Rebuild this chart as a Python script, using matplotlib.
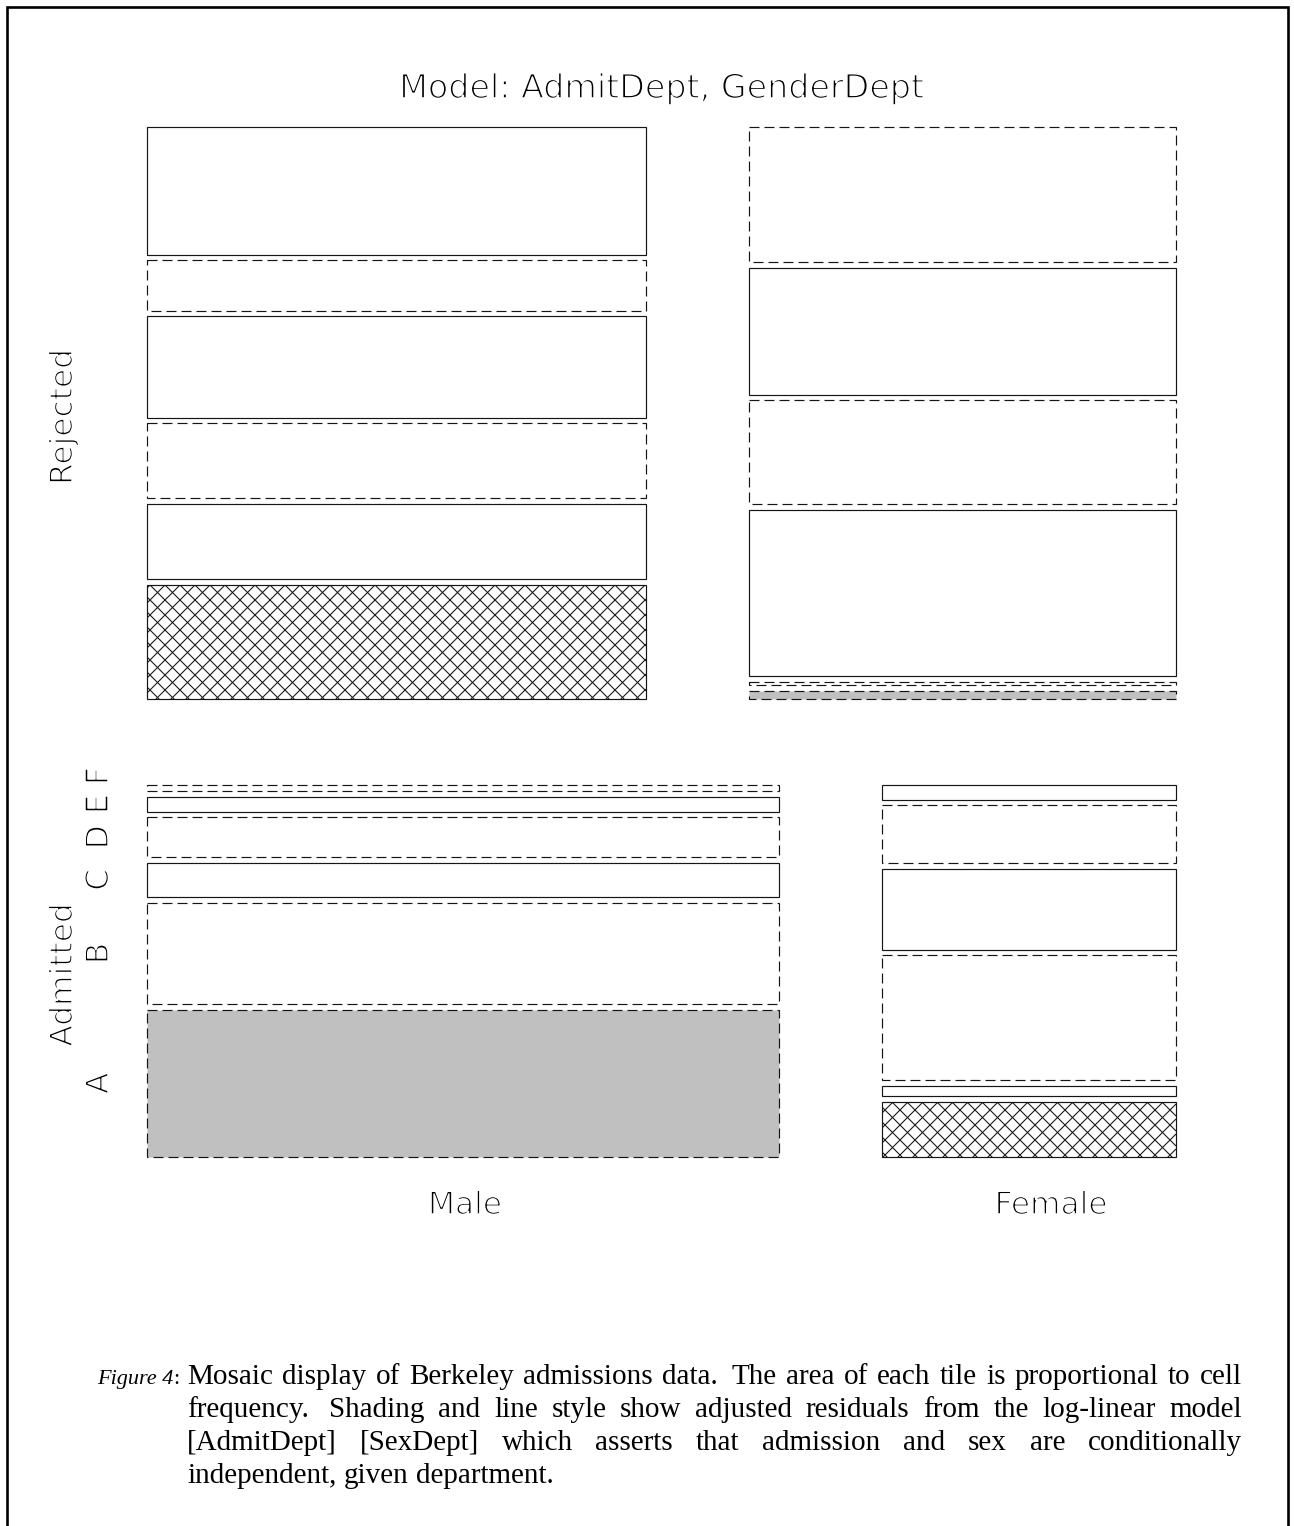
import numpy as np
import matplotlib
matplotlib.use("Agg")
import matplotlib.pyplot as plt
from matplotlib.patches import Rectangle
from matplotlib.collections import LineCollection
import matplotlib.patheffects as pe

plt.rcParams['lines.scale_dashes'] = False

# ---------------- data (Berkeley admissions) ----------------
depts = ['A', 'B', 'C', 'D', 'E', 'F']
admit_levels = ['Admitted', 'Rejected']
genders = ['Male', 'Female']
admitted_male = [512, 353, 120, 138, 53, 22]
admitted_female = [89, 17, 202, 131, 94, 24]
rejected_male = [313, 207, 205, 279, 138, 351]
rejected_female = [19, 8, 391, 244, 299, 317]
title = "Model: AdmitDept, GenderDept"
caption_label = "Figure 4"
caption_lines = [
    "Mosaic display of Berkeley admissions data.  The area of each tile is proportional to cell",
    "frequency.  Shading and line style show adjusted residuals from the log-linear model",
    "[AdmitDept] [SexDept] which asserts that admission and sex are conditionally",
    "independent, given department.",
]

counts = np.array([[admitted_male, admitted_female],
                   [rejected_male, rejected_female]], dtype=float)  # [admit, gender, dept]

# adjusted residuals for model [AdmitDept][GenderDept]
n_ad = counts.sum(axis=1)          # admit x dept
n_gd = counts.sum(axis=0)          # gender x dept
n_d = counts.sum(axis=(0, 1))      # dept
expected = n_ad[:, None, :] * n_gd[None, :, :] / n_d[None, None, :]
var = expected * (1 - n_ad[:, None, :] / n_d) * (1 - n_gd[None, :, :] / n_d)
resid = (counts - expected) / np.sqrt(var)

# ---------------- figure ----------------
W, H = 1294, 1526
fig = plt.figure(figsize=(W / 100, H / 100), dpi=100)
ax = fig.add_axes([0, 0, 1, 1])
ax.set_xlim(0, W)
ax.set_ylim(H, 0)
ax.axis('off')

# page border (open at the bottom)
ax.plot([7, 7, 1288, 1288], [H, 7, 7, H], color='black', lw=1.9,
        solid_joinstyle='miter', solid_capstyle='butt')

LEFT, RIGHT, TOP, BOTTOM = 147, 1176, 127, 1157
ROW_GAP, COL_GAP, DEPT_GAP = 86, 103, 5.5
HATCH_STEP = 15.0
DASH = (0, (7.2, 3.6))
EDGE = '#151515'
LW = 0.85

nd = len(depts)
total = counts.sum()
row_tot = counts.sum(axis=(1, 2))
avail_h = (BOTTOM - TOP) - ROW_GAP - 2 * (nd - 1) * DEPT_GAP
avail_w = (RIGHT - LEFT) - COL_GAP


def crosshatch(x0, y0, w, h, clip):
    x1, y1 = x0 + w, y0 + h
    segs = []
    for c in np.arange(np.floor((y0 - x1) / HATCH_STEP) * HATCH_STEP, y1 - x0 + HATCH_STEP, HATCH_STEP):
        segs.append([(x0, x0 + c), (x1, x1 + c)])
    for c in np.arange(np.floor((x0 + y0) / HATCH_STEP) * HATCH_STEP, x1 + y1 + HATCH_STEP, HATCH_STEP):
        segs.append([(x0, c - x0), (x1, c - x1)])
    lc = LineCollection(segs, colors='#1a1a1a', linewidths=0.8)
    ax.add_collection(lc)
    lc.set_clip_path(clip)


tiles = {}
y = TOP
for a in [1, 0]:  # Rejected on top, Admitted below
    tiles_h = avail_h * row_tot[a] / total
    row_h = tiles_h + (nd - 1) * DEPT_GAP
    x = LEFT
    for g in range(len(genders)):
        cell = counts[a, g]
        w = avail_w * cell.sum() / row_tot[a]
        yb = y + row_h
        for d in range(nd):
            h = tiles_h * cell[d] / cell.sum()
            top = yb - h
            r = resid[a, g, d]
            ls = 'solid' if r >= 0 else DASH
            face = 'none'
            if r <= -2:
                face = '#c0c0c0'
            if r >= 2:
                clip = Rectangle((x, top), w, h, facecolor='none', edgecolor='none')
                ax.add_patch(clip)
                crosshatch(x, top, w, h, clip)
            ax.add_patch(Rectangle((x, top), w, h, facecolor=face, edgecolor=EDGE,
                                   linewidth=LW, linestyle=ls, zorder=3))
            tiles[(a, g, d)] = (x, top, w, h)
            yb = top - DEPT_GAP
        x += w + COL_GAP
    y += row_h + ROW_GAP

# ---------------- labels ----------------
thin = [pe.Stroke(linewidth=1.1, foreground='white')]
lab = dict(family='DejaVu Sans', color='black', path_effects=thin)

ax.text(662, 98, title, fontsize=24, ha='center', va='baseline', **lab)

for a, name in enumerate(admit_levels):
    ys = [tiles[(a, 0, d)][1] for d in range(nd)]
    ye = [tiles[(a, 0, d)][1] + tiles[(a, 0, d)][3] for d in range(nd)]
    yc = (min(ys) + max(ye)) / 2 + 4
    ax.text(72, yc, name, fontsize=22.5, rotation=90, rotation_mode='anchor',
            ha='center', va='baseline', **lab)

prev = None
for d, name in enumerate(depts):
    x0, t0, w0, h0 = tiles[(0, 0, d)]
    yc = t0 + h0 / 2
    if prev is not None:
        yc = min(yc, prev - 28)
    prev = yc
    ax.text(108, yc, name, fontsize=22.5, rotation=90, rotation_mode='anchor',
            ha='center', va='baseline', **lab)

gender_x = [465, 1051]
for g, name in enumerate(genders):
    ax.text(gender_x[g], 1214, name, fontsize=22.5, ha='center', va='baseline', **lab)

# ---------------- caption (justified) ----------------
fig.canvas.draw()
renderer = fig.canvas.get_renderer()
CAP = dict(family='Liberation Serif', fontsize=21, color='black', va='baseline')
LABCAP = dict(CAP, fontsize=16)


def width_of(s, base=CAP, **kw):
    t = ax.text(0, 0, s, **{**base, **kw})
    wpx = t.get_window_extent(renderer).width
    t.remove()
    return wpx


BASE0, LEAD = 1384, 33
TX0, TX1 = 187, 1242
LX = 97
ax.text(LX, BASE0, caption_label, style='italic', **LABCAP)
ax.text(LX + width_of(caption_label, LABCAP, style='italic'), BASE0, ":", **LABCAP)

for i, line in enumerate(caption_lines):
    yb = BASE0 + i * LEAD
    words = line.split()
    last = i == len(caption_lines) - 1
    widths = [width_of(wd) for wd in words]
    space = width_of("a b") - width_of("ab")
    weights = [1.5 if words[k].endswith('.') else 1.0 for k in range(len(words) - 1)]
    if last:
        unit = space
    else:
        unit = (TX1 - TX0 - sum(widths)) / sum(weights)
    xx = TX0
    for k, wd in enumerate(words):
        ax.text(xx, yb, wd, **CAP)
        if k < len(words) - 1:
            xx += widths[k] + unit * (weights[k] if not last else 1.0)

fig.savefig('out.png', dpi=100)
